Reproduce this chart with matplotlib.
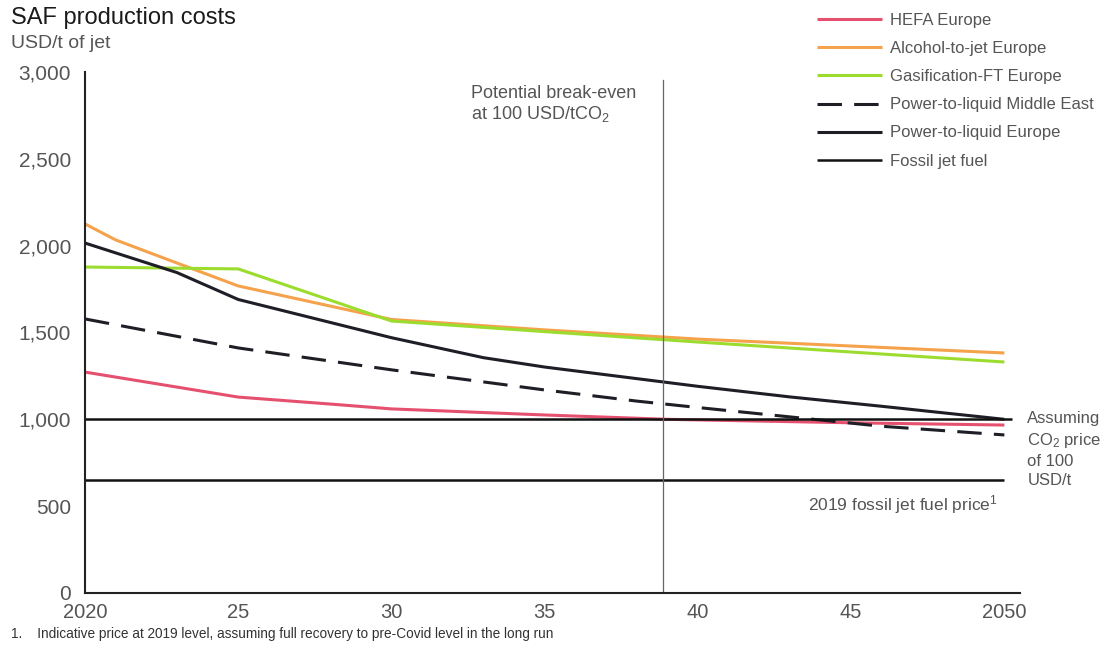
import matplotlib
matplotlib.use("Agg")
import matplotlib.pyplot as plt

plt.rcParams['font.family'] = ['Liberation Sans', 'DejaVu Sans']
plt.rcParams['mathtext.fontset'] = 'custom'
plt.rcParams['mathtext.rm'] = 'Liberation Sans'
plt.rcParams['mathtext.it'] = 'Liberation Sans'

# Cost pathways, USD per tonne of jet fuel
hefa_years = [2020, 2025, 2028, 2030, 2035, 2039, 2045, 2050]
hefa_eu = [1272, 1128, 1088, 1060, 1025, 1000, 980, 967]

atj_years = [2020, 2021, 2023, 2025, 2030, 2035, 2040, 2050]
atj_eu = [2125, 2033, 1900, 1768, 1575, 1515, 1462, 1382]

gft_years = [2020, 2025, 2030, 2035, 2040, 2050]
gft_eu = [1877, 1866, 1566, 1505, 1445, 1330]

ptl_me_years = [2020, 2025, 2030, 2035, 2038, 2040, 2046, 2050]
ptl_me = [1578, 1411, 1285, 1169, 1105, 1068, 960, 910]

ptl_eu_years = [2020, 2023, 2025, 2030, 2033, 2035, 2040, 2043, 2046, 2050]
ptl_eu = [2015, 1845, 1690, 1470, 1355, 1301, 1190, 1129, 1075, 1000]

fossil_co2_years = [2020, 2050.26]
fossil_co2 = [1000, 1000]
fossil_2019_years = [2020, 2050]
fossil_2019 = [650, 650]

breakeven_year = 2038.85

x_ticks = [2020, 2025, 2030, 2035, 2040, 2045, 2050]
x_labels = ['2020', '25', '30', '35', '40', '45', '2050']
y_ticks = [0, 500, 1000, 1500, 2000, 2500, 3000]
y_labels = ['0', '500', '1,000', '1,500', '2,000', '2,500', '3,000']

c_hefa = '#E5506F'
c_atj = '#F5A24C'
c_gft = '#9CDC2E'
c_dark = '#1D1E26'
c_grey = '#555555'

fig = plt.figure(figsize=(11, 6.48), dpi=100)
ax = fig.add_axes([0.0773, 0.0849, 0.8497, 0.804])

lw = 2.2
ax.plot(hefa_years, hefa_eu, color=c_hefa, lw=lw, label='HEFA Europe', solid_capstyle='butt')
ax.plot(atj_years, atj_eu, color=c_atj, lw=lw, label='Alcohol-to-jet Europe', solid_capstyle='butt')
ax.plot(gft_years, gft_eu, color=c_gft, lw=lw, label='Gasification-FT Europe', solid_capstyle='butt')
ax.plot(ptl_me_years, ptl_me, color=c_dark, lw=lw, dashes=(8, 4), label='Power-to-liquid Middle East')
ax.plot(ptl_eu_years, ptl_eu, color=c_dark, lw=lw, label='Power-to-liquid Europe', solid_capstyle='butt')
ax.plot(fossil_co2_years, fossil_co2, color='#111111', lw=1.8, label='Fossil jet fuel', solid_capstyle='butt')
ax.plot(fossil_2019_years, fossil_2019, color='#111111', lw=1.8, solid_capstyle='butt')

ax.plot([breakeven_year, breakeven_year], [0, 2955], color='#666666', lw=0.9)

ax.set_xlim(2020, 2050.5)
ax.set_ylim(0, 3000)
ax.set_xticks(x_ticks)
ax.set_xticklabels(x_labels)
ax.set_yticks(y_ticks)
ax.set_yticklabels(y_labels)
ax.tick_params(axis='both', length=0, colors=c_grey)
ax.tick_params(axis='y', pad=10, labelsize=15)
ax.tick_params(axis='x', pad=7, labelsize=14.5)
for s in ['top', 'right']:
    ax.spines[s].set_visible(False)
ax.spines['left'].set_color('#222222')
ax.spines['left'].set_linewidth(1.5)
ax.spines['bottom'].set_color('#222222')
ax.spines['bottom'].set_linewidth(1.5)

fig.text(0.010, 0.972, 'SAF production costs', fontsize=17, color='#1a1a1a', va='center')
fig.text(0.010, 0.933, 'USD/t of jet', fontsize=14, color=c_grey, va='center')

ax.text(2032.6, 2925, 'Potential break-even\nat 100 USD/tCO$_2$', fontsize=13, color=c_grey,
        ha='left', va='top', linespacing=1.15)
fig.text(0.934, 0.306, 'Assuming\nCO$_2$ price\nof 100\nUSD/t', fontsize=12, color=c_grey,
         ha='left', va='center', linespacing=1.35)
ax.text(2049.8, 507, '2019 fossil jet fuel price$^1$', fontsize=12.5, color=c_grey,
        ha='right', va='center')
fig.text(0.010, 0.022,
         '1.    Indicative price at 2019 level, assuming full recovery to pre-Covid level in the long run',
         fontsize=9.8, color='#333333', va='center')

fig.legend(loc='upper left', bbox_to_anchor=(0.737, 0.990), frameon=False,
           fontsize=12, handlelength=3.85, handletextpad=0.5, labelspacing=0.785,
           labelcolor=c_grey, borderaxespad=0)

fig.savefig('out.png', dpi=100)
